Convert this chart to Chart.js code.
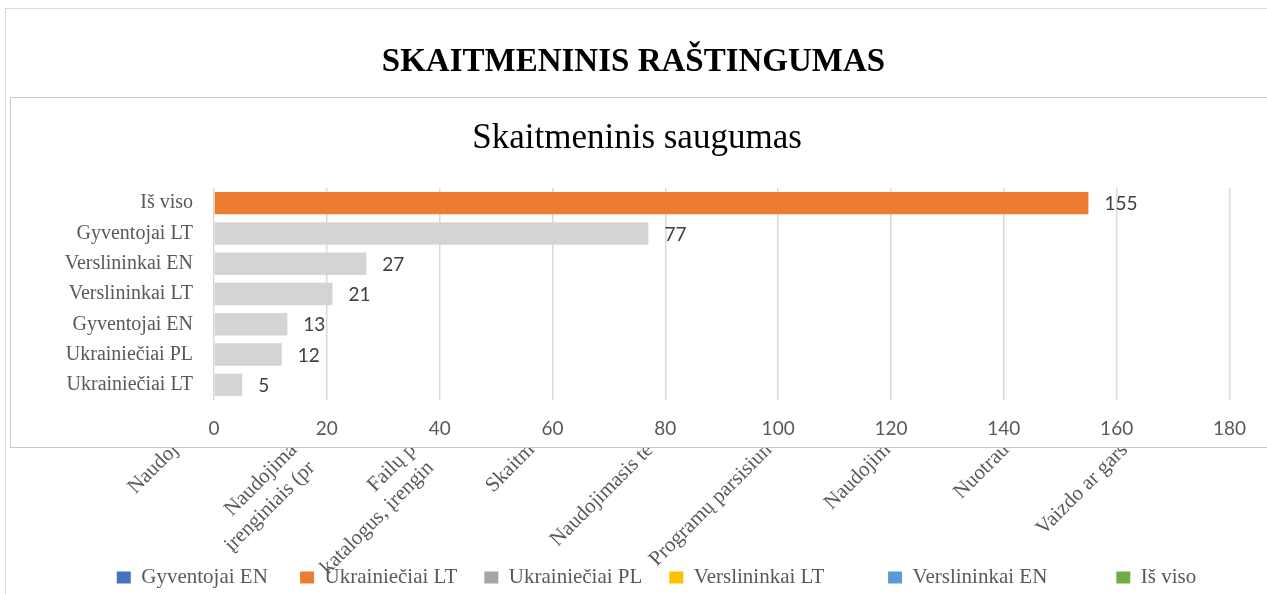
<!DOCTYPE html>
<html>
<head>
<meta charset="utf-8">
<script src="https://cdn.jsdelivr.net/npm/chart.js@4.4.1/dist/chart.umd.min.js"></script>
<style>
  html, body { margin: 0; padding: 0; background: #fff; overflow: hidden; }
  #page { position: relative; width: 1267px; height: 594px; overflow: hidden; }
  #back { position: absolute; left: 0; top: 0; }
  #keys { position: absolute; left: 0; top: 540px; }
  #frame { position: absolute; left: 5px; top: 8px; width: 1300px; height: 700px;
           border-top: 1px solid #d9d9d9; border-left: 1px solid #d9d9d9; }
  #box { position: absolute; left: 10px; top: 97px; width: 1300px; height: 349px;
         border: 1px solid #c9c9c9; background: #fff; }
  #front { position: absolute; left: 0; top: 0; }
</style>
</head>
<body>
<div id="page">
  <canvas id="back" width="1267" height="594"></canvas>
  <canvas id="keys" width="1267" height="160"></canvas>
  <div id="frame"></div>
  <div id="box">
    <canvas id="front" width="1252" height="349"></canvas>
  </div>
</div>

<script>
const serif = "'Liberation Serif', 'Times New Roman', serif";
const sans = "Lato, 'Open Sans', sans-serif";

// Background chart (mostly covered): topics on the x axis, groups in the legend
const topics = [
    'Naudoj',
    ['Naudojima', 'įrenginiais (pr'],
    ['Failų p', 'katalogus, įrengin'],
    'Skaitm',
    'Naudojimasis te',
    'Programų parsisiun',
    'Naudojim',
    'Nuotrau',
    'Vaizdo ar gars'
];
const groups = ['Gyventojai EN', 'Ukrainiečiai LT', 'Ukrainiečiai PL', 'Verslininkai LT', 'Verslininkai EN', 'Iš viso'];
const groupColors = ['#4472C4', '#ED7D31', '#A5A5A5', '#FFC000', '#5B9BD5', '#70AD47'];

// Front chart: Skaitmeninis saugumas
const respondents = ['Iš viso', 'Gyventojai LT', 'Verslininkai EN', 'Verslininkai LT', 'Gyventojai EN', 'Ukrainiečiai PL', 'Ukrainiečiai LT'];
const answers = [155, 77, 27, 21, 13, 12, 5];
const xTicks = [0, 20, 40, 60, 80, 100, 120, 140, 160, 180];


let hiddenAxis = (w) => ({
    ticks: { display: false },
    grid: { display: false, drawTicks: false },
    border: { display: false },
    afterFit: (scale) => { scale.width = w; }
});

let groupSets = () => groups.map((g, i) => ({
    label: g,
    data: [],
    backgroundColor: groupColors[i],
    borderWidth: 0
}));


// Background chart

let backCtx = document.getElementById('back').getContext('2d');

let backChart = new Chart(backCtx, {
    type: 'bar',
    data: {
        labels: topics,
        datasets: groupSets()
    },
    options: {
        responsive: false,
        animation: false,
        scales: {
            x: {
                ticks: {
                    minRotation: 45,
                    maxRotation: 45,
                    autoSkip: false,
                    padding: 2,
                    color: '#595959',
                    font: { family: serif, size: 21 }
                },
                grid: { display: false, drawTicks: false },
                border: { display: false },
                afterFit: (scale) => { scale.height = 158; }
            },
            y: hiddenAxis(116),
            y2: Object.assign({ type: 'linear', position: 'right' }, hiddenAxis(83))
        },
        plugins: {
            title: {
                display: true,
                text: 'SKAITMENINIS RAŠTINGUMAS',
                color: '#000',
                font: { family: serif, size: 33, weight: 'bold' },
                padding: { top: 43, bottom: 10 }
            },
            legend: { display: false },
            tooltip: { enabled: false }
        }
    }
});


// Legend of the background chart (uneven gaps as in the original)

const keyGaps = [1, 0, 0, 7, 8, 0];
let keysCtx = document.getElementById('keys').getContext('2d');

let keysChart = new Chart(keysCtx, {
    type: 'bar',
    data: {
        labels: [],
        datasets: groupSets()
    },
    options: {
        responsive: false,
        animation: false,
        layout: { padding: { left: 46 } },
        scales: {
            x: { display: false },
            y: { display: false }
        },
        plugins: {
            legend: {
                position: 'top',
                labels: {
                    boxWidth: 14,
                    boxHeight: 12,
                    padding: 27,
                    color: '#595959',
                    font: { family: serif, size: 21 },
                    generateLabels: (chart) => Chart.defaults.plugins.legend.labels.generateLabels(chart)
                        .map((item, i) => Object.assign(item, { text: item.text + ' '.repeat(keyGaps[i]) }))
                }
            },
            tooltip: { enabled: false }
        }
    }
});


// Value labels next to the bars

const valueLabels = {
    id: 'valueLabels',
    afterDatasetsDraw(chart) {
        const ctx = chart.ctx;
        const meta = chart.getDatasetMeta(0);
        ctx.save();
        ctx.font = '19px ' + sans;
        ctx.fillStyle = '#404040';
        ctx.textBaseline = 'middle';
        meta.data.forEach((bar, i) => {
            ctx.fillText(answers[i], bar.x + 16, bar.y + 1);
        });
        ctx.restore();
    }
};


// Front chart

let frontCtx = document.getElementById('front').getContext('2d');

let frontChart = new Chart(frontCtx, {
    type: 'bar',
    data: {
        labels: respondents,
        datasets: [{
            data: answers,
            backgroundColor: answers.map((v, i) => i === 0 ? '#ED7D31' : '#D4D4D4'),
            borderWidth: 0,
            categoryPercentage: 1,
            barPercentage: 0.74
        }]
    },
    options: {
        indexAxis: 'y',
        responsive: false,
        animation: false,
        scales: {
            x: {
                min: xTicks[0],
                max: xTicks[xTicks.length - 1],
                afterBuildTicks: (scale) => { scale.ticks = xTicks.map(v => ({ value: v })); },
                ticks: {
                    padding: 17,
                    color: '#595959',
                    font: { family: sans, size: 19 }
                },
                grid: { color: '#d9d9d9', lineWidth: 1.5, drawTicks: false },
                border: { display: false },
                afterFit: (scale) => { scale.height = 47; }
            },
            y: {
                ticks: {
                    padding: 21,
                    color: '#595959',
                    font: { family: serif, size: 20 }
                },
                grid: { display: false, drawTicks: false },
                border: { display: false },
                afterFit: (scale) => { scale.width = 203; }
            },
            y2: Object.assign({ type: 'linear', position: 'right' }, hiddenAxis(30))
        },
        plugins: {
            title: {
                display: true,
                text: 'Skaitmeninis saugumas',
                color: '#000',
                font: { family: serif, size: 35, weight: 'normal' },
                padding: { top: 20, bottom: 28 }
            },
            legend: { display: false },
            tooltip: { enabled: false }
        }
    },
    plugins: [valueLabels]
});
</script>
</body>
</html>
